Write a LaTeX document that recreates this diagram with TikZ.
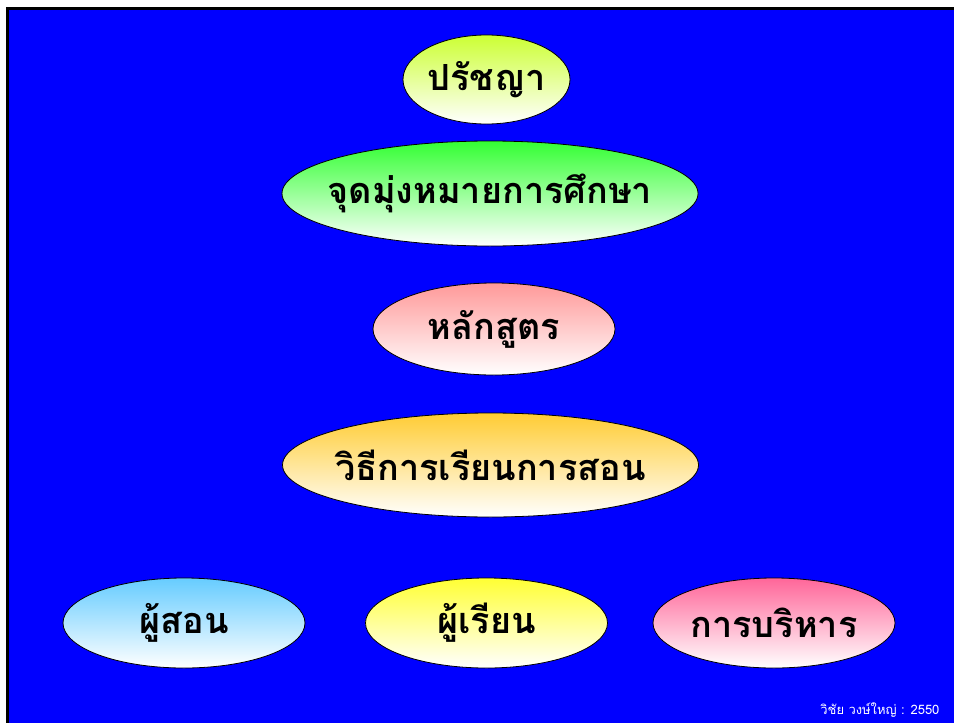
\documentclass[tikz,border=0pt]{standalone}
\usepackage{fontspec}
\usetikzlibrary{shapes.geometric}
\newfontfamily\thaifont[Script=Thai]{Loma}

\definecolor{slideblue}{RGB}{0,0,255}
\definecolor{philtop}{RGB}{204,255,51}
\definecolor{goaltop}{RGB}{51,255,51}
\definecolor{currtop}{RGB}{255,153,153}
\definecolor{methtop}{RGB}{255,204,51}
\definecolor{teachtop}{RGB}{102,204,255}
\definecolor{learntop}{RGB}{255,255,51}
\definecolor{admintop}{RGB}{255,102,153}

\begin{document}
\begin{tikzpicture}[x=1pt,y=-1pt,
  oval/.style={ellipse,draw=black,line width=0.8pt,inner xsep=-30pt,inner ysep=0pt,
    bottom color=white,
    font=\thaifont\bfseries\fontsize{36}{40}\selectfont},
  small oval/.style={oval,minimum width=242pt,minimum height=90pt},
  wide oval/.style={oval,minimum width=416pt,minimum height=105pt}]

\useasboundingbox (0,0) rectangle (954,723);
\fill[white](0,0) rectangle (954,723);
\fill[black](6,7) rectangle (954,723);
\fill[slideblue](9,10) rectangle (954,723);

\node[oval,top color=philtop,minimum width=167pt,minimum height=89pt] (phil) at (486.5,79.5) {ปรัชญา};
\node[wide oval,top color=goaltop] (goal) at (490,193.5) {จุดมุ่งหมายการศึกษา};
\node[small oval,top color=currtop,minimum height=92pt] (curr) at (494,329) {หลักสูตร};
\node[wide oval,top color=methtop,minimum height=104pt] (method) at (490.5,465) {วิธีการเรียนการสอน};

\node[small oval,top color=teachtop] (teacher) at (184,623) {ผู้สอน};
\node[small oval,top color=learntop] (learner) at (486.5,623) {ผู้เรียน};
\node[small oval,top color=admintop] (admin) at (774,623) {การบริหาร};

\node[text=white,font=\thaifont\fontsize{13}{15}\selectfont,anchor=east] (credit) at (943,710) {วิชัย วงษ์ใหญ่ : 2550};

\end{tikzpicture}
\end{document}
